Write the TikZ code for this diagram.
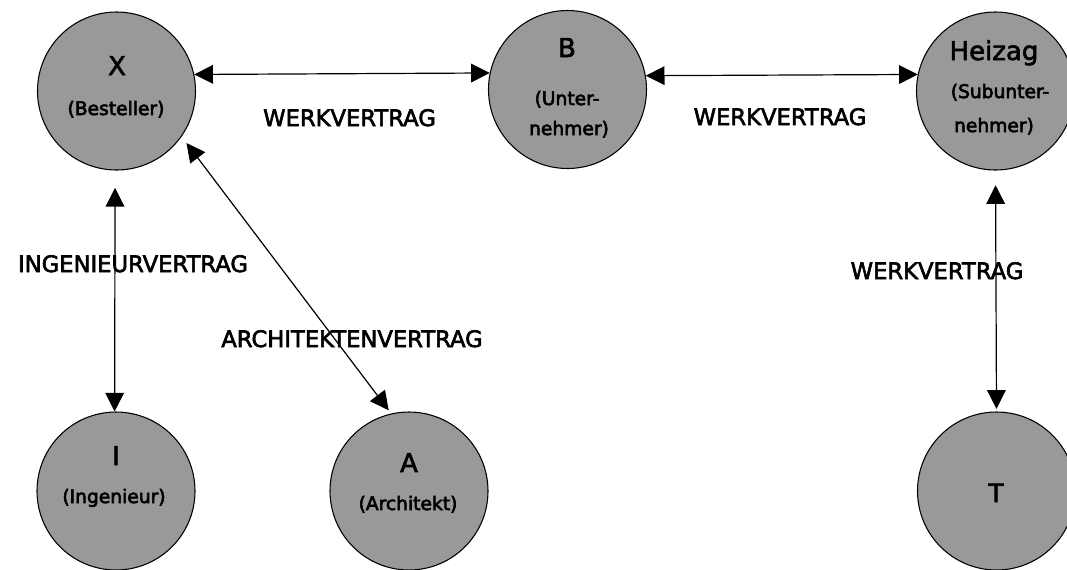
\documentclass[tikz,border=0pt]{standalone}
\usepackage{fontspec}
\setmainfont{DejaVu Sans}
\newfontfamily\arialfont{Liberation Sans}
\usetikzlibrary{arrows.meta}
\definecolor{circfill}{RGB}{153,153,153}
\newcommand\heavytxt[1]{\special{pdf:literal direct 2 Tr 0.45 w}#1\special{pdf:literal direct 0 Tr}}
\begin{document}
\begin{tikzpicture}[x=0.75pt,y=-0.75pt,
  party/.style={circle,draw=black,line width=0.8pt,fill=circfill,minimum size=118.5pt,inner sep=0pt},
  ptitle/.style={anchor=base,inner sep=0pt,font=\fontsize{19.5}{23}\selectfont},
  psub/.style={anchor=base,inner sep=0pt,font=\fontsize{14}{17}\selectfont},
  contract/.style={anchor=base,inner sep=0pt,font=\fontsize{17}{20}\selectfont},
  link/.style={line width=0.9pt,{Triangle[length=14pt,width=14pt]}-{Triangle[length=14pt,width=14pt]}}]
\useasboundingbox (0,0) rectangle (1067,569);
\fill[white] (0,0) rectangle (1067,569);
% parties
\node[party] (X) at (116.5,91) {};
\node[party] (B) at (567.5,89.5) {};
\node[party] (H) at (995.5,91) {};
\node[party] (I) at (116,491) {};
\node[party] (A) at (409,491) {};
\node[party] (T) at (996.5,491) {};
% connectors
\draw[link] (X.12.9) -- (B.168.2);
\draw[link] (B.10.6) -- (H.168.3);
\draw[link,shorten <=13pt] (X.-91.5) -- (I.91.5);
\draw[link,shorten <=6pt,shorten >=3pt] (X.-35.5) -- (A.103.2);
\draw[link,shorten <=11pt,shorten >=2pt] (H.-90.4) -- (T.90.9);
% texts in circles
\node[ptitle] (Xt) at (117,75) {\heavytxt{X}};
\node[psub] (Xs) at (116,115) {\heavytxt{(Besteller)}};
\node[ptitle] (Bt) at (567,57) {\heavytxt{B}};
\node[psub] (Bs1) at (567,105) {\heavytxt{(Unter-}};
\node[psub] (Bs2) at (569,135) {\heavytxt{nehmer)}};
\node[ptitle] (Ht) at (994,60) {\heavytxt{Heizag}};
\node[psub] (Hs1) at (1000,98) {\heavytxt{(Subunter-}};
\node[psub] (Hs2) at (994,132) {\heavytxt{nehmer)}};
\node[ptitle] (It) at (116,465) {\heavytxt{I}};
\node[psub] (Is) at (114,503) {\heavytxt{(Ingenieur)}};
\node[ptitle] (At) at (409,472) {\heavytxt{A}};
\node[psub] (As) at (408,510) {\heavytxt{(Architekt)}};
\node[ptitle,font=\arialfont\fontsize{20}{24}\selectfont] (Tt) at (996,502) {\heavytxt{T}};
% contract labels
\node[contract] (l1) at (349.5,126) {\heavytxt{WERKVERTRAG}};
\node[contract] (l2) at (780,125) {\heavytxt{WERKVERTRAG}};
\node[contract] (l3) at (937,279) {\heavytxt{WERKVERTRAG}};
\node[contract] (l4) at (133,272) {\heavytxt{INGENIEURVERTRAG}};
\node[contract] (l5) at (352,347) {\heavytxt{ARCHITEKTENVERTRAG}};
\end{tikzpicture}
\end{document}
